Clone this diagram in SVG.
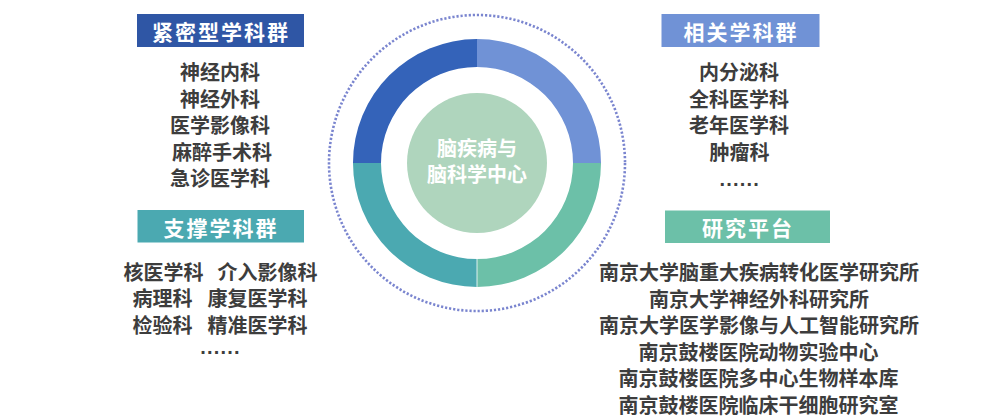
<svg xmlns="http://www.w3.org/2000/svg" width="988" height="420" viewBox="0 0 988 420">
<style>
text{font-family:"Noto Sans CJK SC","Noto Sans",sans-serif;}
.hd{font-size:21px;font-weight:700;fill:#ffffff;letter-spacing:2px;text-anchor:middle;}
.it{font-size:20px;font-weight:700;fill:#3d3d3d;}
.mid{text-anchor:middle;}
.ct{font-size:20px;font-weight:700;fill:#ffffff;text-anchor:middle;}
.dots{font-family:"Liberation Sans",sans-serif;font-size:20px;font-weight:700;fill:#3d3d3d;letter-spacing:1.2px;text-anchor:middle;}
</style>
<rect width="988" height="420" fill="#ffffff"/>
<g id="center">
<circle cx="477" cy="163" r="148" fill="none" stroke="#7a85cf" stroke-width="2.6" stroke-dasharray="2.2 1.9"/>
<path d="M477,39 A124,124 0 0 1 601,163 L573,163 A96,96 0 0 0 477,67 Z" fill="#7092d6"/>
<path d="M601,163 A124,124 0 0 1 477,287 L477,259 A96,96 0 0 0 573,163 Z" fill="#6cc0a8"/>
<path d="M477,287 A124,124 0 0 1 353,163 L381,163 A96,96 0 0 0 477,259 Z" fill="#4ba9b1"/>
<path d="M353,163 A124,124 0 0 1 477,39 L477,67 A96,96 0 0 0 381,163 Z" fill="#3463b9"/>
<line x1="477" y1="259" x2="477" y2="287" stroke="#ffffff" stroke-width="0.8"/>
<circle cx="477" cy="163" r="70" fill="#afd5bd"/>
<text class="ct" x="477" y="155.5">脑疾病与</text>
<text class="ct" x="477" y="182">脑科学中心</text>
</g>
<g id="close-group">
<rect x="137" y="14" width="167" height="33" fill="#2f56a5"/>
<text class="hd" x="221" y="39.5">紧密型学科群</text>
<text class="it mid" x="220" y="80">神经内科</text>
<text class="it mid" x="220" y="106.5">神经外科</text>
<text class="it mid" x="220" y="133">医学影像科</text>
<text class="it mid" x="222" y="159.5">麻醉手术科</text>
<text class="it mid" x="220" y="186">急诊医学科</text>
</g>
<g id="support-group">
<rect x="137.5" y="210" width="166.5" height="32.5" fill="#4ba9b1"/>
<text class="hd" x="221" y="235.5">支撑学科群</text>
<text class="it" x="123.5" y="279.5">核医学科</text>
<text class="it" x="217.5" y="279.5">介入影像科</text>
<text class="it" x="132.5" y="306">病理科</text>
<text class="it" x="207.5" y="306">康复医学科</text>
<text class="it" x="132.5" y="332.5">检验科</text>
<text class="it" x="207.5" y="332.5">精准医学科</text>
<text class="dots" x="220.6" y="354">......</text>
</g>
<g id="related-group">
<rect x="661.5" y="14" width="158" height="33" fill="#7092d6"/>
<text class="hd" x="741" y="39.5">相关学科群</text>
<text class="it mid" x="739" y="80">内分泌科</text>
<text class="it mid" x="739" y="106.5">全科医学科</text>
<text class="it mid" x="739" y="133">老年医学科</text>
<text class="it mid" x="739.5" y="159.5">肿瘤科</text>
<text class="dots" x="739.8" y="185.5">......</text>
</g>
<g id="research-platform">
<rect x="665" y="210.5" width="165" height="32.5" fill="#6cc0a8"/>
<text class="hd" x="748" y="235.5">研究平台</text>
<text class="it mid" x="759" y="280">南京大学脑重大疾病转化医学研究所</text>
<text class="it mid" x="759" y="306.5">南京大学神经外科研究所</text>
<text class="it mid" x="759" y="333">南京大学医学影像与人工智能研究所</text>
<text class="it mid" x="758.5" y="359.5">南京鼓楼医院动物实验中心</text>
<text class="it mid" x="758.5" y="386">南京鼓楼医院多中心生物样本库</text>
<text class="it mid" x="758.5" y="412.5">南京鼓楼医院临床干细胞研究室</text>
</g>
<g id="connectors"></g>
</svg>
